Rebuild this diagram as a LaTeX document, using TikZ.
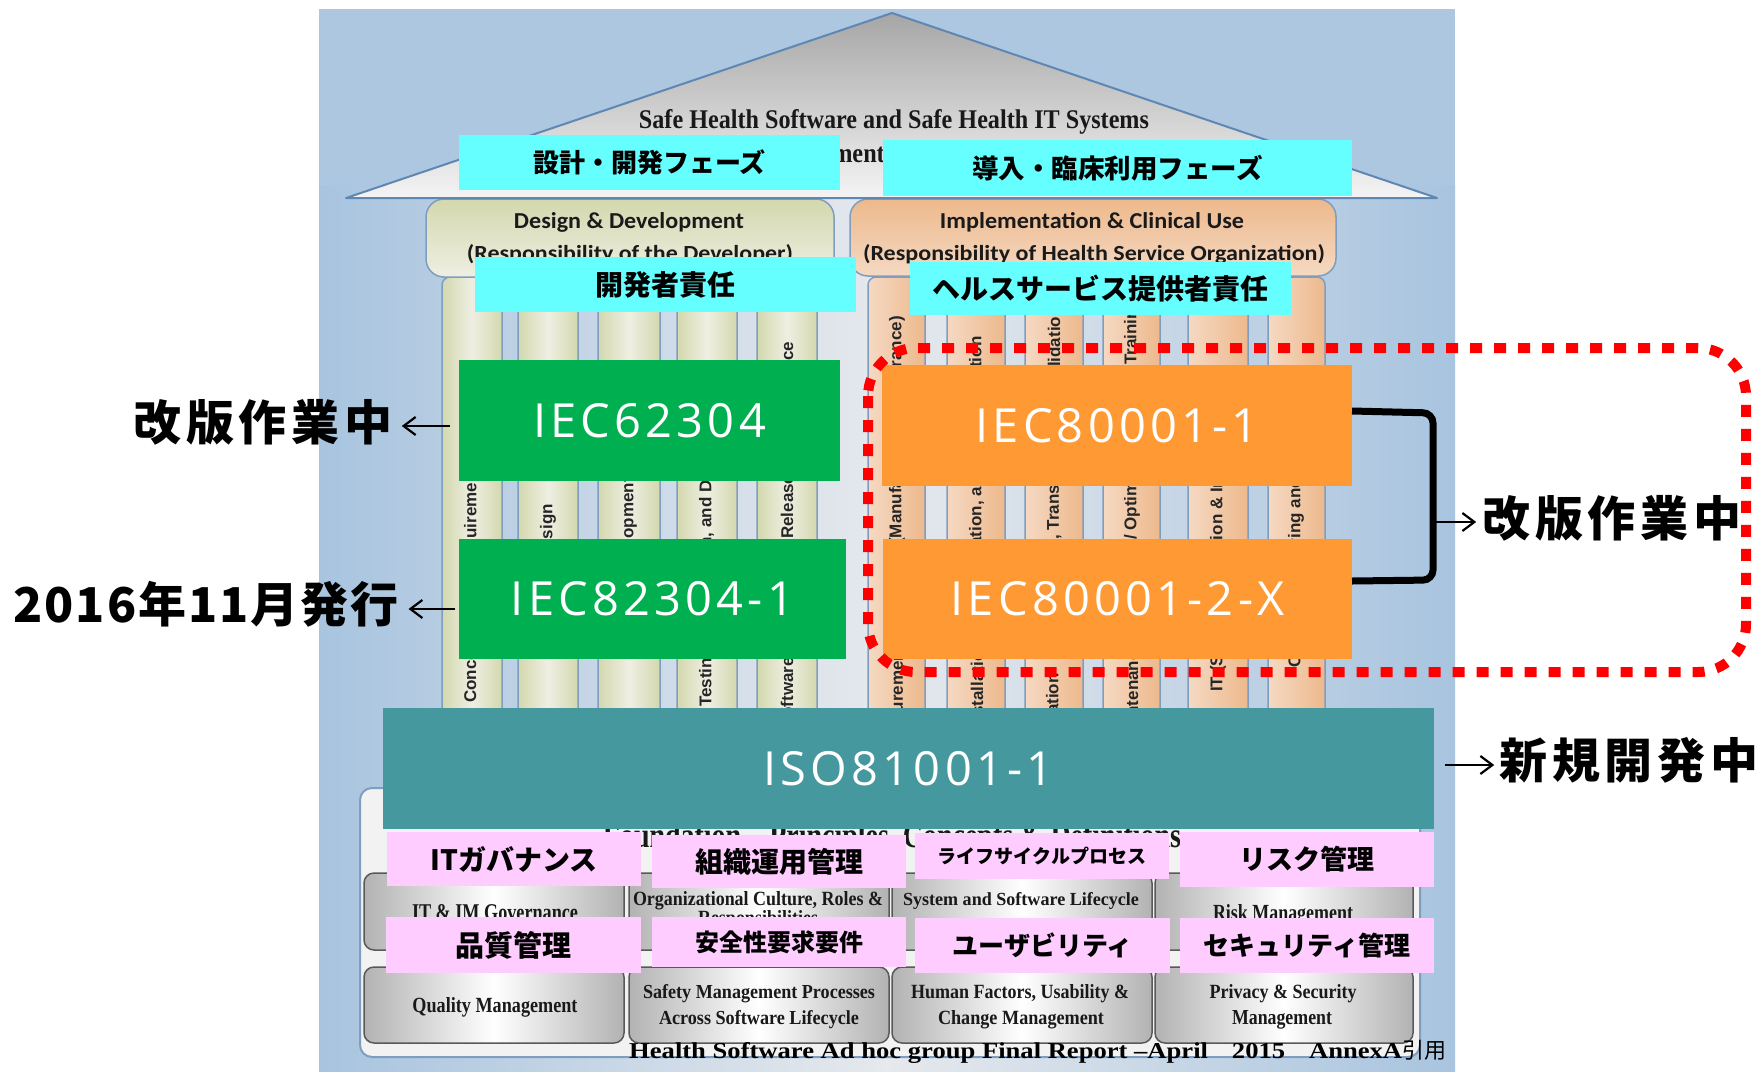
\documentclass[tikz,border=0pt]{standalone}
\usepackage{fontspec}
\usepackage{graphicx}
\usetikzlibrary{arrows.meta}
\setmainfont{Liberation Serif}
\newfontfamily\jp{Noto Sans CJK JP}
\newfontfamily\jpsp{Noto Sans CJK JP}[LetterSpace=10]
\newfontfamily\jpsq{Noto Sans CJK JP}[LetterSpace=4]
\newfontfamily\wsans{Open Sans}[LetterSpace=9]
\newfontfamily\hsans{Carlito}
\newfontfamily\psans{Liberation Sans}
\newfontfamily\tserif{Liberation Serif}
\definecolor{bgE}{HTML}{A8C4DF}
\definecolor{bgT}{HTML}{ADC7E0}
\definecolor{bgM}{HTML}{E6E9ED}
\definecolor{roofT}{HTML}{A6A6A6}
\definecolor{roofB}{HTML}{F4F4F4}
\definecolor{edgeB}{HTML}{5F87B3}
\definecolor{pilB}{HTML}{7F9DBE}
\definecolor{cy}{HTML}{66FFFF}
\definecolor{gr}{HTML}{00B050}
\definecolor{og}{HTML}{FF9933}
\definecolor{tl}{HTML}{46989F}
\definecolor{pk}{HTML}{FFCCFF}
\definecolor{rd}{HTML}{FF0000}
\definecolor{lpE}{HTML}{D3D8AE}
\definecolor{lpM}{HTML}{EEEFE2}
\definecolor{rpL}{HTML}{F5D9C3}
\definecolor{rpR}{HTML}{EDB98C}
\definecolor{txd}{HTML}{1A1A1A}
\begin{document}
\begin{tikzpicture}[x=1pt,y=-1pt,
  box/.style={inner sep=0pt, outer sep=0pt},
  cyanbox/.style={box, fill=cy, font=\jp\bfseries\fontsize{27}{27}\selectfont},
  stdbox/.style={box, text=white, font=\wsans\fontsize{47}{47}\selectfont},
  pinkbox/.style={box, fill=pk, font=\jp\bfseries\fontsize{27}{27}\selectfont},
  annot/.style={inner sep=0pt, font=\jpsp\bfseries\fontsize{48}{48}\selectfont},
  arr/.style={line width=2.2pt, -{Straight Barb[length=12pt,width=18pt]}},
  lpil/.style={draw=pilB, line width=1.5pt, rounded corners=8pt, left color=lpE, right color=lpE, middle color=lpM},
  rpil/.style={draw=pilB, line width=1.5pt, rounded corners=8pt, left color=rpL, right color=rpR},
  ptxt/.style={rotate=90, anchor=west, inner sep=0pt, font=\psans\bfseries\fontsize{17}{17}\selectfont, text=black!85},
  htxt/.style={anchor=base, inner sep=0pt, text=txd},
  stxt/.style={anchor=base, inner sep=0pt, text=black!90},
  gbox/.style={draw=black!65, line width=1.5pt, rounded corners=10pt, left color=black!30, right color=black!30, middle color=white},
]
\useasboundingbox (0,0) rectangle (1763,1071);
\fill[white] (0,0) rectangle (1763,1071);
% background panel
\fill[bgT] (319,9) rectangle (1455,1071);
\shade[left color=bgE, right color=bgE, middle color=bgM] (319,185) rectangle (1455,1071);
% foundation outer box
\draw[draw=pilB, line width=2pt, rounded corners=12pt, fill=black!5] (360,788) rectangle (1420,1057);
% pillars
\foreach \a/\b in {442/502, 518/578, 598/660, 677/737, 757/817}
  \draw[lpil] (\a,277) rectangle (\b,760);
\foreach \a/\b in {868/925, 947/1005, 1025/1083, 1103/1160, 1188/1248, 1268/1325}
  \draw[rpil] (\a,277) rectangle (\b,760);
% headers
\draw[draw=pilB, line width=1.5pt, rounded corners=18pt, top color=lpE, bottom color=lpM] (426,199) rectangle (834,277);
\draw[draw=pilB, line width=1.5pt, rounded corners=18pt, top color=rpR, bottom color=rpL] (850,199) rectangle (1336,276);
% roof
\shade[top color=roofT, bottom color=roofB] (892,13) -- (1437,198) -- (346,198) -- cycle;
\draw[edgeB, line width=2pt, line join=round] (892,13) -- (1437,198) -- (346,198) -- cycle;
\node[stxt] (title) at (894,128) {\resizebox{510pt}{19pt}{\tserif\bfseries Safe Health Software and Safe Health IT Systems}};
\node[anchor=base east, inner sep=0pt, text=black!90] (envt) at (885,162) {\resizebox{137pt}{19pt}{\tserif\bfseries Environment}};
% header texts
\node[htxt] (hl1) at (629,228) {\resizebox{230pt}{16pt}{\hsans\bfseries Design \& Development}};
\node[htxt] (hl2) at (630,260) {\resizebox{326pt}{16pt}{\hsans\bfseries (Responsibility of the Developer)}};
\node[htxt] (hr1) at (1092,228) {\resizebox{304pt}{16pt}{\hsans\bfseries Implementation \& Clinical Use}};
\node[htxt] (hr2) at (1094,260) {\resizebox{462pt}{16pt}{\hsans\bfseries (Responsibility of Health Service Organization)}};
% pillar texts (left)
\node[ptxt] (p1a) at (472,703) {Concept \&};
\node[ptxt] (p1b) at (472,571) {Requirements};
\node[ptxt] (p2a) at (548,561) {Design};
\node[ptxt] (p3a) at (629,584) {Development};
\node[ptxt] (p4a) at (707,707) {Testing,};
\node[ptxt] (p4b) at (707,629) {Verification, and Deployment};
\node[ptxt] (p5a) at (787,729) {Software};
\node[ptxt] (p5b) at (787,539) {Release};
\node[ptxt] (p5c) at (787,445) {Maintenance};
% pillar texts (right)
\node[ptxt] (q1a) at (897,750) {Procurement};
\node[ptxt] (q1b) at (897,544) {(Manufacturer};
\node[ptxt] (q1c) at (897,409) {Assurance)};
\node[ptxt] (q2a) at (977,731) {Installation};
\node[ptxt] (q2b) at (977,594) {Integration, and};
\node[ptxt] (q2c) at (977,417) {Operation};
\node[ptxt] (q3a) at (1054,785) {Configuration};
\node[ptxt] (q3b) at (1054,540) {, Transition};
\node[ptxt] (q3c) at (1054,387) {Validation};
\node[ptxt] (q4a) at (1132,745) {Maintenance};
\node[ptxt] (q4b) at (1132,540) {/ Optimization};
\node[ptxt] (q4c) at (1132,365) {Training};
\node[ptxt] (q5a) at (1218,692) {IT (Service};
\node[ptxt] (q5b) at (1218,595) {Operation \& Integration};
\node[ptxt] (q6a) at (1296,668) {Change Monitoring and Disposal};
% foundation header
\node[stxt] (fh) at (892,847) {\resizebox{578pt}{25pt}{\tserif\bfseries Foundation – Principles, Concepts \& Definitions}};
% grey boxes
\foreach \a/\b in {364/624, 629/889, 892/1152, 1155/1413} {
  \draw[gbox] (\a,873) rectangle (\b,950);
  \draw[gbox] (\a,967) rectangle (\b,1043);
}
\node[stxt] (g1) at (495,920) {\resizebox{166pt}{16pt}{\tserif\bfseries IT \& IM Governance}};
\node[stxt] (g2) at (758,905) {\resizebox{250pt}{14pt}{\tserif\bfseries Organizational Culture, Roles \&}};
\node[stxt] (g2b) at (758,924) {\resizebox{120pt}{14pt}{\tserif\bfseries Responsibilities}};
\node[stxt] (g3) at (1021,905) {\resizebox{236pt}{13pt}{\tserif\bfseries System and Software Lifecycle}};
\node[stxt] (g4) at (1283,920) {\resizebox{140pt}{16pt}{\tserif\bfseries Risk Management}};
\node[stxt] (g5) at (495,1012) {\resizebox{165pt}{15pt}{\tserif\bfseries Quality Management}};
\node[stxt] (g6) at (759,998) {\resizebox{232pt}{14pt}{\tserif\bfseries Safety Management Processes}};
\node[stxt] (g6b) at (759,1024) {\resizebox{200pt}{14pt}{\tserif\bfseries Across Software Lifecycle}};
\node[stxt] (g7) at (1020,998) {\resizebox{218pt}{14pt}{\tserif\bfseries Human Factors, Usability \&}};
\node[stxt] (g7b) at (1021,1024) {\resizebox{166pt}{14pt}{\tserif\bfseries Change Management}};
\node[stxt] (g8) at (1283,998) {\resizebox{147pt}{14pt}{\tserif\bfseries Privacy \& Security}};
\node[stxt] (g8b) at (1282,1024) {\resizebox{100pt}{14pt}{\tserif\bfseries Management}};
% cyan boxes
\node[cyanbox, minimum width=381pt, minimum height=55pt, font=\jp\bfseries\fontsize{26}{26}\selectfont] (c1) at (649.5,162.5) {設計・開発フェーズ};
\node[cyanbox, minimum width=469pt, minimum height=56pt, font=\jp\bfseries\fontsize{26.5}{27}\selectfont] (c2) at (1117.5,168) {導入・臨床利用フェーズ};
\node[cyanbox, minimum width=381pt, minimum height=55pt, font=\jp\bfseries\fontsize{28}{28}\selectfont] (c3) at (665.5,284.5) {開発者責任};
\node[cyanbox, minimum width=381pt, minimum height=53pt, font=\jp\bfseries\fontsize{28}{28}\selectfont] (c4) at (1100.5,288.5) {ヘルスサービス提供者責任};
% standard boxes
\node[stdbox, fill=gr, minimum width=381pt, minimum height=121pt] (g62304) at (649.5,420.5) {IEC62304};
\node[stdbox, fill=gr, minimum width=387pt, minimum height=120pt] (g82304) at (652.5,599) {IEC82304-1};
\node[stdbox, fill=og, minimum width=470pt, minimum height=121pt] (o1) at (1117,425.5) {IEC80001-1};
\node[stdbox, fill=og, minimum width=469pt, minimum height=120pt] (o2) at (1117.5,599) {IEC80001-2-X};
\node[stdbox, fill=tl, minimum width=1051pt, minimum height=121pt] (iso) at (908.5,768.5) {ISO81001-1};
% pink boxes
\node[pinkbox, minimum width=254pt, minimum height=54pt, font=\jp\bfseries\fontsize{28}{28}\selectfont] (k1) at (514,859) {ITガバナンス};
\node[pinkbox, minimum width=254pt, minimum height=53pt, font=\jp\bfseries\fontsize{28}{28}\selectfont] (k2) at (779,861.5) {組織運用管理};
\node[pinkbox, minimum width=254pt, minimum height=46pt, font=\jp\bfseries\fontsize{19}{19}\selectfont] (k3) at (1042,856) {ライフサイクルプロセス};
\node[pinkbox, minimum width=254pt, minimum height=55pt, font=\jp\bfseries\fontsize{27}{27}\selectfont] (k4) at (1307,859.5) {リスク管理};
\node[pinkbox, minimum width=255pt, minimum height=56pt, font=\jp\bfseries\fontsize{29}{29}\selectfont] (k5) at (513.5,945) {品質管理};
\node[pinkbox, minimum width=254pt, minimum height=50pt, font=\jp\bfseries\fontsize{24}{24}\selectfont] (k6) at (779,942) {安全性要求要件};
\node[pinkbox, minimum width=255pt, minimum height=55pt, font=\jp\bfseries\fontsize{26}{26}\selectfont] (k7) at (1042.5,945.5) {ユーザビリティ};
\node[pinkbox, minimum width=254pt, minimum height=55pt, font=\jp\bfseries\fontsize{26}{26}\selectfont] (k8) at (1307,945.5) {セキュリティ管理};
% red dotted frame
\draw[draw=rd, line width=10pt, dash pattern=on 12pt off 12pt, rounded corners=48pt] (868,348) rectangle (1746,672);
% bracket
\draw[line width=7pt, rounded corners=10pt] (o1.east |- 0,411) -- (1433,413) -- (1433,580) -- (o2.east |- 0,581);
% annotations
\node[annot] (l1) at (263,422) {改版作業中};
\node[annot, font=\jpsq\bfseries\fontsize{48}{48}\selectfont] (l2) at (206,604) {2016年11月発行};
\node[annot] (r1) at (1612,518) {改版作業中};
\node[annot] (r2) at (1629,760) {新規開発中};
\coordinate (la1) at (450,426);
\coordinate (la2) at (455,609);
\coordinate (ra1) at (1433,522);
\coordinate (ra2) at (1445,765);
\draw[arr] (la1) -- ([xshift=9pt]l1.east |- la1);
\draw[arr] (la2) -- ([xshift=10pt]l2.east |- la2);
\draw[arr] (ra1) -- ([xshift=-6pt]r1.west |- ra1);
\draw[arr] (ra2) -- ([xshift=-5pt]r2.west |- ra2);
% citation
\node[anchor=base west, inner sep=0pt] (cit) at (629,1058) {\resizebox{773pt}{16pt}{\tserif\bfseries Health Software Ad hoc group Final Report –April\hspace{0.9em}2015\hspace{0.9em}AnnexA}};
\node[anchor=base west, inner sep=0pt, font=\jp\fontsize{22}{22}\selectfont] (cit2) at (cit.base east) {引用};
\end{tikzpicture}
\end{document}
